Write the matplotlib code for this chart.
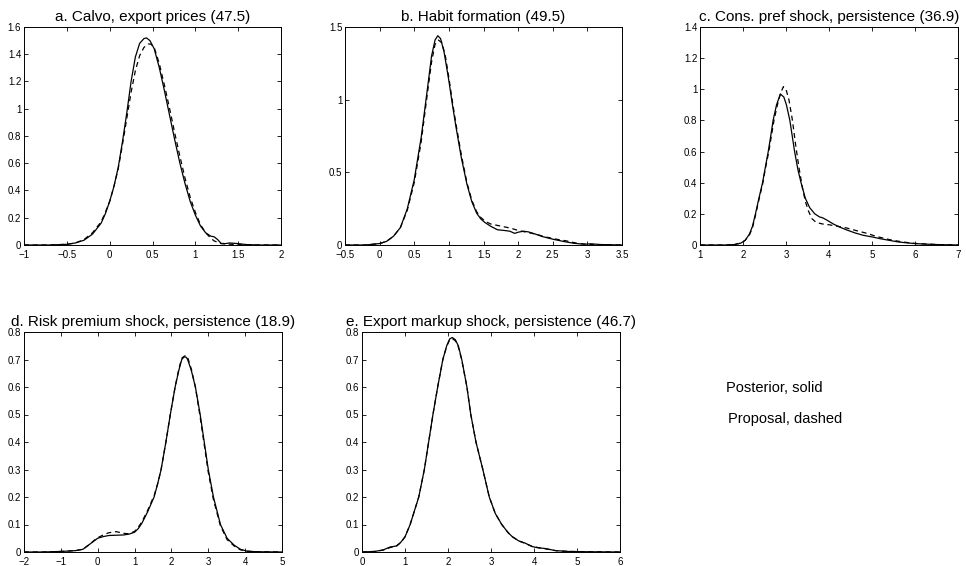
import matplotlib
matplotlib.use("Agg")
import matplotlib.pyplot as plt

plt.rcParams['font.family'] = ['Liberation Sans', 'DejaVu Sans']

# ---------------- data ----------------
titles = ["a. Calvo, export prices (47.5)",
          "b. Habit formation (49.5)",
          "c. Cons. pref shock, persistence (36.9)",
          "d. Risk premium shock, persistence (18.9)",
          "e. Export markup shock, persistence (46.7)"]

# panel a
a_x_post = [-1, -0.7, -0.5, -0.4, -0.3, -0.2, -0.1, -0.05, 0, 0.05, 0.1, 0.15, 0.2, 0.25, 0.3, 0.35, 0.4, 0.43, 0.47, 0.52, 0.58, 0.64, 0.7, 0.76, 0.82, 0.88, 0.94, 1.0, 1.06, 1.12, 1.18, 1.22, 1.26, 1.3, 1.35, 1.4, 1.5, 1.6, 1.75, 2]
a_y_post = [0, 0, 0.005, 0.015, 0.035, 0.08, 0.16, 0.23, 0.32, 0.43, 0.57, 0.76, 0.97, 1.2, 1.38, 1.48, 1.515, 1.52, 1.5, 1.44, 1.3, 1.13, 0.95, 0.77, 0.6, 0.45, 0.32, 0.22, 0.14, 0.09, 0.065, 0.06, 0.04, 0.012, 0.01, 0.015, 0.01, 0.003, 0, 0]
a_x_prop = [-1, -0.7, -0.5, -0.4, -0.3, -0.2, -0.1, -0.05, 0, 0.05, 0.1, 0.15, 0.2, 0.25, 0.3, 0.35, 0.4, 0.45, 0.48, 0.52, 0.58, 0.64, 0.7, 0.76, 0.82, 0.88, 0.94, 1.0, 1.06, 1.12, 1.18, 1.22, 1.26, 1.3, 1.4, 1.5, 1.75, 2]
a_y_prop = [0, 0, 0.005, 0.015, 0.04, 0.09, 0.17, 0.24, 0.32, 0.43, 0.56, 0.74, 0.93, 1.12, 1.28, 1.39, 1.45, 1.475, 1.475, 1.45, 1.33, 1.17, 1.0, 0.82, 0.65, 0.49, 0.35, 0.24, 0.15, 0.09, 0.05, 0.03, 0.02, 0.01, 0.006, 0.003, 0, 0]

# panel b
b_x_post = [-0.5, -0.2, 0, 0.1, 0.2, 0.3, 0.4, 0.5, 0.6, 0.67, 0.75, 0.8, 0.84, 0.88, 0.93, 1.0, 1.05, 1.1, 1.18, 1.26, 1.33, 1.4, 1.46, 1.52, 1.6, 1.7, 1.8, 1.88, 1.95, 2.0, 2.08, 2.15, 2.25, 2.35, 2.5, 2.65, 2.8, 2.95, 3.05, 3.2, 3.5]
b_y_post = [0, 0, 0.01, 0.025, 0.06, 0.12, 0.25, 0.45, 0.74, 1.0, 1.3, 1.41, 1.44, 1.42, 1.33, 1.13, 0.97, 0.82, 0.6, 0.42, 0.3, 0.22, 0.18, 0.155, 0.13, 0.105, 0.1, 0.095, 0.08, 0.088, 0.095, 0.09, 0.075, 0.058, 0.04, 0.025, 0.012, 0.005, 0.008, 0.003, 0]
b_x_prop = [-0.5, -0.2, 0, 0.1, 0.2, 0.3, 0.4, 0.5, 0.6, 0.67, 0.75, 0.8, 0.85, 0.9, 0.95, 1.0, 1.05, 1.1, 1.18, 1.26, 1.33, 1.4, 1.46, 1.52, 1.6, 1.7, 1.8, 1.9, 2.0, 2.1, 2.25, 2.4, 2.55, 2.7, 2.85, 3.0, 3.2, 3.5]
b_y_prop = [0, 0, 0.01, 0.025, 0.06, 0.12, 0.24, 0.43, 0.71, 0.97, 1.26, 1.38, 1.41, 1.39, 1.3, 1.15, 0.99, 0.84, 0.62, 0.43, 0.31, 0.23, 0.19, 0.165, 0.145, 0.135, 0.125, 0.115, 0.1, 0.09, 0.075, 0.055, 0.04, 0.028, 0.012, 0.005, 0.002, 0]

# panel c
c_x_post = [1, 1.6, 1.8, 1.95, 2.05, 2.15, 2.22, 2.29, 2.37, 2.455, 2.52, 2.587, 2.645, 2.7, 2.78, 2.87, 2.95, 3.01, 3.09, 3.2, 3.28, 3.35, 3.45, 3.55, 3.67, 3.78, 3.85, 3.95, 4.1, 4.25, 4.4, 4.6, 4.8, 5.0, 5.2, 5.4, 5.6, 5.8, 6.0, 6.3, 6.6, 7]
c_y_post = [0, 0, 0.003, 0.012, 0.03, 0.07, 0.12, 0.2, 0.3, 0.4, 0.5, 0.6, 0.7, 0.8, 0.9, 0.97, 0.95, 0.9, 0.8, 0.6, 0.48, 0.4, 0.3, 0.24, 0.2, 0.18, 0.175, 0.16, 0.135, 0.115, 0.098, 0.078, 0.062, 0.052, 0.04, 0.03, 0.02, 0.014, 0.009, 0.005, 0.002, 0]
c_x_prop = [1, 1.6, 1.8, 1.95, 2.05, 2.15, 2.22, 2.29, 2.37, 2.455, 2.52, 2.6, 2.66, 2.72, 2.8, 2.88, 2.94, 3.0, 3.07, 3.15, 3.22, 3.3, 3.38, 3.45, 3.52, 3.6, 3.7, 3.85, 4.0, 4.2, 4.4, 4.6, 4.88, 5.1, 5.4, 5.7, 6.0, 6.5, 7]
c_y_prop = [0, 0, 0.003, 0.012, 0.03, 0.065, 0.11, 0.19, 0.29, 0.39, 0.49, 0.6, 0.7, 0.8, 0.9, 0.98, 1.017, 1.0, 0.93, 0.8, 0.65, 0.5, 0.37, 0.28, 0.22, 0.17, 0.145, 0.135, 0.13, 0.12, 0.11, 0.095, 0.075, 0.055, 0.035, 0.02, 0.01, 0.003, 0]

# panel d
d_x_post = [-2, -1.5, -1, -0.6, -0.4, -0.3, -0.2, -0.1, 0, 0.15, 0.3, 0.5, 0.7, 0.85, 1.0, 1.1, 1.2, 1.35, 1.53, 1.63, 1.72, 1.85, 1.97, 2.1, 2.2, 2.28, 2.35, 2.4, 2.44, 2.54, 2.65, 2.78, 2.89, 3.0, 3.14, 3.33, 3.51, 3.7, 3.87, 4.05, 4.3, 5]
d_y_post = [0, 0, 0.002, 0.005, 0.01, 0.02, 0.03, 0.04, 0.05, 0.056, 0.06, 0.061, 0.062, 0.065, 0.072, 0.085, 0.105, 0.145, 0.2, 0.25, 0.3, 0.4, 0.5, 0.6, 0.66, 0.7, 0.71, 0.708, 0.7, 0.66, 0.6, 0.5, 0.4, 0.3, 0.2, 0.1, 0.05, 0.025, 0.01, 0.003, 0.001, 0]
d_x_prop = [-2, -1.5, -1, -0.6, -0.4, -0.3, -0.2, -0.1, 0, 0.15, 0.3, 0.5, 0.7, 0.85, 1.0, 1.1, 1.2, 1.35, 1.53, 1.63, 1.72, 1.85, 1.97, 2.1, 2.2, 2.28, 2.35, 2.4, 2.44, 2.54, 2.65, 2.78, 2.89, 3.0, 3.14, 3.33, 3.51, 3.7, 3.87, 4.05, 4.3, 5]
d_y_prop = [0, 0, 0.002, 0.005, 0.01, 0.02, 0.03, 0.042, 0.052, 0.062, 0.07, 0.074, 0.068, 0.066, 0.075, 0.09, 0.11, 0.15, 0.205, 0.25, 0.3, 0.4, 0.5, 0.6, 0.665, 0.705, 0.712, 0.715, 0.708, 0.665, 0.6, 0.49, 0.39, 0.29, 0.19, 0.095, 0.045, 0.022, 0.008, 0.003, 0.001, 0]

# panel e
e_x_post = [0, 0.3, 0.5, 0.65, 0.8, 0.9, 1.0, 1.12, 1.22, 1.32, 1.45, 1.55, 1.65, 1.76, 1.88, 1.97, 2.04, 2.1, 2.17, 2.24, 2.32, 2.44, 2.53, 2.65, 2.81, 2.96, 3.1, 3.25, 3.4, 3.5, 3.65, 3.8, 3.95, 4.1, 4.25, 4.5, 4.8, 5.2, 6]
e_y_post = [0, 0.002, 0.008, 0.018, 0.022, 0.035, 0.055, 0.1, 0.15, 0.2, 0.3, 0.4, 0.5, 0.6, 0.7, 0.75, 0.775, 0.78, 0.772, 0.75, 0.7, 0.6, 0.5, 0.4, 0.3, 0.2, 0.14, 0.1, 0.07, 0.055, 0.04, 0.032, 0.02, 0.015, 0.013, 0.005, 0.002, 0.001, 0]
e_x_prop = [0, 0.3, 0.5, 0.65, 0.8, 0.9, 1.0, 1.12, 1.22, 1.32, 1.45, 1.55, 1.65, 1.76, 1.88, 1.97, 2.04, 2.1, 2.17, 2.24, 2.32, 2.44, 2.53, 2.65, 2.81, 2.96, 3.1, 3.25, 3.4, 3.5, 3.65, 3.8, 3.95, 4.1, 4.25, 4.5, 4.8, 5.2, 6]
e_y_prop = [0, 0.002, 0.007, 0.016, 0.021, 0.034, 0.055, 0.1, 0.15, 0.2, 0.3, 0.4, 0.5, 0.6, 0.7, 0.748, 0.772, 0.776, 0.768, 0.746, 0.698, 0.6, 0.5, 0.4, 0.3, 0.2, 0.14, 0.1, 0.07, 0.055, 0.04, 0.031, 0.021, 0.016, 0.012, 0.005, 0.002, 0.001, 0]

xlims = [(-1, 2), (-0.5, 3.5), (1, 7), (-2, 5), (0, 6)]
ylims = [(0, 1.6), (0, 1.5), (0, 1.4), (0, 0.8), (0, 0.8)]
xticks = [[-1, -0.5, 0, 0.5, 1, 1.5, 2],
          [-0.5, 0, 0.5, 1, 1.5, 2, 2.5, 3, 3.5],
          [1, 2, 3, 4, 5, 6, 7],
          [-2, -1, 0, 1, 2, 3, 4, 5],
          [0, 1, 2, 3, 4, 5, 6]]
yticks = [[0, 0.2, 0.4, 0.6, 0.8, 1, 1.2, 1.4, 1.6],
          [0, 0.5, 1, 1.5],
          [0, 0.2, 0.4, 0.6, 0.8, 1, 1.2, 1.4],
          [0, 0.1, 0.2, 0.3, 0.4, 0.5, 0.6, 0.7, 0.8],
          [0, 0.1, 0.2, 0.3, 0.4, 0.5, 0.6, 0.7, 0.8]]

posts = [(a_x_post, a_y_post), (b_x_post, b_y_post), (c_x_post, c_y_post), (d_x_post, d_y_post), (e_x_post, e_y_post)]
props = [(a_x_prop, a_y_prop), (b_x_prop, b_y_prop), (c_x_prop, c_y_prop), (d_x_prop, d_y_prop), (e_x_prop, e_y_prop)]

legend_lines = ["Posterior, solid", "Proposal, dashed"]

# ---------------- layout ----------------
W, H = 966, 566
boxes_px = [(24, 27, 281, 245), (345, 27, 622, 245), (700, 27, 958, 245),
            (24, 332, 282, 552), (362, 332, 620, 552)]

fig = plt.figure(figsize=(W / 100, H / 100), dpi=100)

def fmt(v):
    s = ('%g' % v)
    return s.replace('-', '\u2212')

for i in range(5):
    l, t, r, b = boxes_px[i]
    ax = fig.add_axes([l / W, 1 - b / H, (r - l) / W, (b - t) / H])
    ax.plot(posts[i][0], posts[i][1], color='black', lw=0.9, solid_joinstyle='round')
    ax.plot(props[i][0], props[i][1], color='black', lw=0.9, linestyle=(0, (4, 3)))
    ax.set_xlim(*xlims[i])
    ax.set_ylim(*ylims[i])
    ax.set_xticks(xticks[i])
    ax.set_yticks(yticks[i])
    ax.set_xticklabels([fmt(v) for v in xticks[i]])
    ax.set_yticklabels([fmt(v) for v in yticks[i]])
    ax.tick_params(direction='in', top=True, right=True, length=3, width=0.6,
                   labelsize=7, colors='black')
    ax.tick_params(axis='x', pad=3.5)
    ax.tick_params(axis='y', pad=2)
    for sp in ax.spines.values():
        sp.set_linewidth(0.7)
    ax.set_title(titles[i], fontsize=11, pad=4)

fig.text(726 / W, 1 - 392 / H, legend_lines[0], fontsize=10.5, va='baseline', ha='left')
fig.text(728 / W, 1 - 423 / H, legend_lines[1], fontsize=10.5, va='baseline', ha='left')

fig.savefig('out.png', dpi=100, facecolor='white')
